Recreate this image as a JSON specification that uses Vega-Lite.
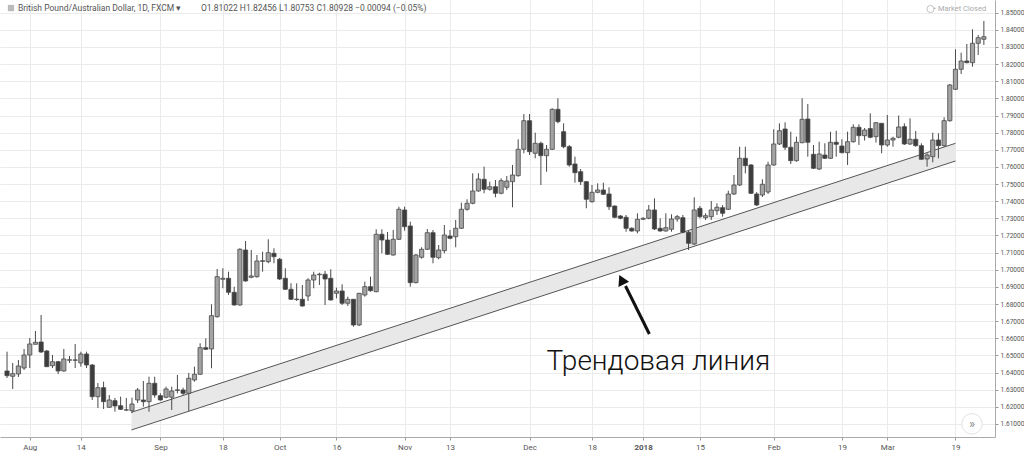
{
"$schema": "https://vega.github.io/schema/vega-lite/v6.json",
"width": 995, "height": 437, "padding": 0, "autosize": {"type": "pad"},
"background": "white",
"config": {"view": {"stroke": null}, "font": "Roboto",
 "axis": {"labelOverlap": false, "labelFlush": false, "labelBound": false, "domainColor": "#aaaaaa", "gridColor": "#ebebeb", "tickColor": "#999999", "labelColor": "#555555"},
 "axisQuantitative": {"labelOverlap": false},
 "axisRight": {"labelOverlap": false},
 "axisY": {"labelFontSize": 6.6, "labelOverlap": false, "labelPadding": 2, "tickSize": 3}},
"datasets": {
"candles": [
{"i":-4,"o":1.64093,"h":1.65219,"l":1.63685,"c":1.63819},
{"i":-3,"o":1.63784,"h":1.6456,"l":1.63043,"c":1.63936},
{"i":-2,"o":1.63918,"h":1.64735,"l":1.63743,"c":1.64385},
{"i":-1,"o":1.64268,"h":1.65377,"l":1.64152,"c":1.65027},
{"i":0,"o":1.65027,"h":1.66019,"l":1.64268,"c":1.65669},
{"i":1,"o":1.65651,"h":1.66427,"l":1.65651,"c":1.65768},
{"i":2,"o":1.65785,"h":1.67361,"l":1.65143,"c":1.65202},
{"i":3,"o":1.6526,"h":1.65318,"l":1.64326,"c":1.64344},
{"i":4,"o":1.64402,"h":1.65027,"l":1.64268,"c":1.64636},
{"i":5,"o":1.64636,"h":1.64677,"l":1.63918,"c":1.64093},
{"i":6,"o":1.64093,"h":1.65377,"l":1.64052,"c":1.64793},
{"i":7,"o":1.6472,"h":1.64968,"l":1.6456,"c":1.6475},
{"i":8,"o":1.6474,"h":1.65669,"l":1.64268,"c":1.6472},
{"i":9,"o":1.6456,"h":1.65219,"l":1.64344,"c":1.65085},
{"i":10,"o":1.65085,"h":1.65219,"l":1.64268,"c":1.64443},
{"i":11,"o":1.64443,"h":1.64502,"l":1.62401,"c":1.62594},
{"i":12,"o":1.62594,"h":1.63393,"l":1.61934,"c":1.63119},
{"i":13,"o":1.63119,"h":1.63469,"l":1.61876,"c":1.62302},
{"i":14,"o":1.61975,"h":1.62693,"l":1.61934,"c":1.62401},
{"i":15,"o":1.6236,"h":1.62518,"l":1.61718,"c":1.62051},
{"i":16,"o":1.62068,"h":1.62594,"l":1.61817,"c":1.61858},
{"i":17,"o":1.6181,"h":1.62518,"l":1.61759,"c":1.6183},
{"i":18,"o":1.61777,"h":1.62535,"l":1.61642,"c":1.62168},
{"i":19,"o":1.62401,"h":1.63101,"l":1.62226,"c":1.62985},
{"i":20,"o":1.62401,"h":1.6351,"l":1.6201,"c":1.62302},
{"i":21,"o":1.62302,"h":1.63761,"l":1.61718,"c":1.63375},
{"i":22,"o":1.63375,"h":1.63761,"l":1.62535,"c":1.62693},
{"i":23,"o":1.62652,"h":1.62792,"l":1.6236,"c":1.62401},
{"i":24,"o":1.62559,"h":1.63177,"l":1.625,"c":1.63043},
{"i":25,"o":1.62559,"h":1.63177,"l":1.61817,"c":1.62926},
{"i":26,"o":1.62955,"h":1.6386,"l":1.62792,"c":1.62996},
{"i":27,"o":1.62985,"h":1.63119,"l":1.62693,"c":1.62792},
{"i":28,"o":1.62792,"h":1.63976,"l":1.61759,"c":1.63667},
{"i":29,"o":1.63568,"h":1.64344,"l":1.63469,"c":1.63901},
{"i":30,"o":1.63901,"h":1.65709,"l":1.6386,"c":1.65453},
{"i":31,"o":1.65453,"h":1.66001,"l":1.65318,"c":1.65359},
{"i":32,"o":1.65377,"h":1.67985,"l":1.64251,"c":1.6732},
{"i":33,"o":1.67262,"h":1.70045,"l":1.67203,"c":1.69596},
{"i":34,"o":1.69444,"h":1.70086,"l":1.68919,"c":1.69502},
{"i":35,"o":1.69502,"h":1.69887,"l":1.68528,"c":1.68685},
{"i":36,"o":1.68685,"h":1.69012,"l":1.67903,"c":1.67944},
{"i":37,"o":1.67944,"h":1.71253,"l":1.67903,"c":1.71194},
{"i":38,"o":1.71154,"h":1.71679,"l":1.69304,"c":1.69345},
{"i":39,"o":1.69561,"h":1.71154,"l":1.69502,"c":1.69637},
{"i":40,"o":1.69596,"h":1.70862,"l":1.69537,"c":1.70512},
{"i":41,"o":1.7049,"h":1.71054,"l":1.69887,"c":1.7053},
{"i":42,"o":1.70471,"h":1.71778,"l":1.70378,"c":1.70996},
{"i":43,"o":1.70961,"h":1.71253,"l":1.70378,"c":1.70763},
{"i":44,"o":1.70611,"h":1.70687,"l":1.69403,"c":1.69461},
{"i":45,"o":1.69502,"h":1.70086,"l":1.6882,"c":1.6886},
{"i":46,"o":1.6886,"h":1.69211,"l":1.68236,"c":1.68277},
{"i":47,"o":1.6826,"h":1.69211,"l":1.68178,"c":1.6829},
{"i":48,"o":1.68277,"h":1.69111,"l":1.67845,"c":1.67886},
{"i":49,"o":1.68469,"h":1.69502,"l":1.68178,"c":1.69403},
{"i":50,"o":1.69403,"h":1.69887,"l":1.68919,"c":1.69695},
{"i":51,"o":1.6971,"h":1.69829,"l":1.69111,"c":1.6974},
{"i":52,"o":1.69736,"h":1.69928,"l":1.67944,"c":1.69461},
{"i":53,"o":1.69502,"h":1.70027,"l":1.68207,"c":1.68236},
{"i":54,"o":1.68627,"h":1.68954,"l":1.68335,"c":1.68761},
{"i":55,"o":1.68761,"h":1.69152,"l":1.67944,"c":1.68044},
{"i":56,"o":1.68044,"h":1.68429,"l":1.67886,"c":1.68277},
{"i":57,"o":1.68277,"h":1.68294,"l":1.66678,"c":1.66777},
{"i":58,"o":1.66777,"h":1.68645,"l":1.66719,"c":1.68627},
{"i":59,"o":1.68528,"h":1.69304,"l":1.68429,"c":1.69012},
{"i":60,"o":1.69012,"h":1.69596,"l":1.6872,"c":1.68779},
{"i":61,"o":1.6872,"h":1.72361,"l":1.68685,"c":1.7207},
{"i":62,"o":1.7207,"h":1.72361,"l":1.70961,"c":1.71737},
{"i":63,"o":1.71737,"h":1.72204,"l":1.70862,"c":1.70903},
{"i":64,"o":1.70862,"h":1.72321,"l":1.70821,"c":1.71778},
{"i":65,"o":1.71778,"h":1.7368,"l":1.71737,"c":1.73529},
{"i":66,"o":1.73488,"h":1.7368,"l":1.7228,"c":1.72513},
{"i":67,"o":1.72554,"h":1.72805,"l":1.69012,"c":1.69246},
{"i":68,"o":1.69246,"h":1.7092,"l":1.69211,"c":1.70862},
{"i":69,"o":1.70728,"h":1.71311,"l":1.70646,"c":1.71194},
{"i":70,"o":1.71194,"h":1.72379,"l":1.71154,"c":1.72163},
{"i":71,"o":1.72163,"h":1.72321,"l":1.70378,"c":1.70728},
{"i":72,"o":1.70704,"h":1.71445,"l":1.70611,"c":1.71154},
{"i":73,"o":1.71113,"h":1.72612,"l":1.70961,"c":1.72029},
{"i":74,"o":1.71971,"h":1.72321,"l":1.71778,"c":1.71836},
{"i":75,"o":1.7193,"h":1.72904,"l":1.71311,"c":1.7242},
{"i":76,"o":1.7242,"h":1.73914,"l":1.72379,"c":1.73529},
{"i":77,"o":1.73529,"h":1.74112,"l":1.73447,"c":1.73879},
{"i":78,"o":1.73879,"h":1.75629,"l":1.7382,"c":1.74596},
{"i":79,"o":1.74596,"h":1.75629,"l":1.74555,"c":1.75296},
{"i":80,"o":1.75279,"h":1.76014,"l":1.74462,"c":1.74695},
{"i":81,"o":1.74695,"h":1.75139,"l":1.74614,"c":1.74847},
{"i":82,"o":1.74847,"h":1.75238,"l":1.74229,"c":1.74462},
{"i":83,"o":1.74462,"h":1.75337,"l":1.74404,"c":1.75197},
{"i":84,"o":1.74812,"h":1.75471,"l":1.74655,"c":1.75179},
{"i":85,"o":1.75139,"h":1.76113,"l":1.73645,"c":1.7553},
{"i":86,"o":1.75489,"h":1.77613,"l":1.75431,"c":1.7703},
{"i":87,"o":1.7703,"h":1.79089,"l":1.76796,"c":1.78698},
{"i":88,"o":1.78698,"h":1.79089,"l":1.76697,"c":1.76889},
{"i":89,"o":1.76796,"h":1.77998,"l":1.76504,"c":1.7738},
{"i":90,"o":1.7738,"h":1.77473,"l":1.74946,"c":1.76656},
{"i":91,"o":1.76656,"h":1.7728,"l":1.75722,"c":1.7703},
{"i":92,"o":1.7703,"h":1.79422,"l":1.76988,"c":1.79363},
{"i":93,"o":1.79363,"h":1.80005,"l":1.78546,"c":1.7864},
{"i":94,"o":1.78056,"h":1.78546,"l":1.77088,"c":1.77181},
{"i":95,"o":1.77181,"h":1.7728,"l":1.76014,"c":1.76113},
{"i":96,"o":1.76171,"h":1.76598,"l":1.75081,"c":1.75664},
{"i":97,"o":1.75722,"h":1.7588,"l":1.74946,"c":1.75139},
{"i":98,"o":1.75139,"h":1.75179,"l":1.73587,"c":1.74112},
{"i":99,"o":1.73972,"h":1.74946,"l":1.73914,"c":1.7452},
{"i":100,"o":1.7452,"h":1.75045,"l":1.74462,"c":1.74655},
{"i":101,"o":1.74655,"h":1.75081,"l":1.74363,"c":1.74404},
{"i":102,"o":1.74421,"h":1.74812,"l":1.73488,"c":1.7368},
{"i":103,"o":1.73721,"h":1.7375,"l":1.73003,"c":1.73061},
{"i":104,"o":1.73137,"h":1.73196,"l":1.72945,"c":1.73003},
{"i":105,"o":1.73061,"h":1.73196,"l":1.72221,"c":1.7242},
{"i":106,"o":1.7242,"h":1.72478,"l":1.72221,"c":1.72262},
{"i":107,"o":1.72262,"h":1.73295,"l":1.72128,"c":1.72945},
{"i":108,"o":1.72945,"h":1.73061,"l":1.72904,"c":1.73003},
{"i":109,"o":1.73003,"h":1.73779,"l":1.72945,"c":1.73488},
{"i":110,"o":1.73488,"h":1.7417,"l":1.72321,"c":1.72379},
{"i":111,"o":1.7242,"h":1.73003,"l":1.72221,"c":1.72262},
{"i":112,"o":1.72262,"h":1.73295,"l":1.72221,"c":1.72455},
{"i":113,"o":1.72361,"h":1.73237,"l":1.72221,"c":1.72962},
{"i":114,"o":1.72962,"h":1.73196,"l":1.72805,"c":1.73097},
{"i":115,"o":1.73038,"h":1.73196,"l":1.72128,"c":1.72186},
{"i":116,"o":1.72186,"h":1.72321,"l":1.71154,"c":1.71545},
{"i":117,"o":1.71504,"h":1.74229,"l":1.71445,"c":1.73488},
{"i":118,"o":1.73587,"h":1.73721,"l":1.73003,"c":1.73097},
{"i":119,"o":1.73038,"h":1.73295,"l":1.72904,"c":1.73155},
{"i":120,"o":1.73097,"h":1.74013,"l":1.72904,"c":1.73488},
{"i":121,"o":1.73447,"h":1.73879,"l":1.73196,"c":1.73645},
{"i":122,"o":1.73622,"h":1.73779,"l":1.73097,"c":1.73295},
{"i":123,"o":1.73529,"h":1.74614,"l":1.73488,"c":1.74421},
{"i":124,"o":1.74421,"h":1.7553,"l":1.74363,"c":1.74946},
{"i":125,"o":1.74946,"h":1.77181,"l":1.74888,"c":1.76504},
{"i":126,"o":1.76504,"h":1.77181,"l":1.75629,"c":1.76073},
{"i":127,"o":1.76113,"h":1.76171,"l":1.74421,"c":1.74462},
{"i":128,"o":1.74421,"h":1.74538,"l":1.73721,"c":1.73779},
{"i":129,"o":1.74363,"h":1.75279,"l":1.74247,"c":1.74987},
{"i":130,"o":1.74538,"h":1.76306,"l":1.74421,"c":1.76113},
{"i":131,"o":1.76113,"h":1.78197,"l":1.76073,"c":1.77339},
{"i":132,"o":1.77339,"h":1.78546,"l":1.7728,"c":1.78115},
{"i":133,"o":1.78214,"h":1.78605,"l":1.76988,"c":1.77146},
{"i":134,"o":1.77146,"h":1.78056,"l":1.76171,"c":1.76364},
{"i":135,"o":1.76364,"h":1.77765,"l":1.76306,"c":1.77438},
{"i":136,"o":1.77415,"h":1.80005,"l":1.7738,"c":1.7878},
{"i":137,"o":1.78797,"h":1.79673,"l":1.76598,"c":1.77438},
{"i":138,"o":1.76738,"h":1.7728,"l":1.7588,"c":1.75921},
{"i":139,"o":1.7588,"h":1.77473,"l":1.75822,"c":1.76755},
{"i":140,"o":1.76697,"h":1.7738,"l":1.76463,"c":1.76504},
{"i":141,"o":1.76504,"h":1.78056,"l":1.76463,"c":1.77438},
{"i":142,"o":1.77438,"h":1.78115,"l":1.76598,"c":1.77321},
{"i":143,"o":1.77222,"h":1.77613,"l":1.76796,"c":1.76831},
{"i":144,"o":1.76831,"h":1.78056,"l":1.76113,"c":1.77473},
{"i":145,"o":1.77473,"h":1.78488,"l":1.77415,"c":1.78313},
{"i":146,"o":1.78313,"h":1.78488,"l":1.7728,"c":1.77823},
{"i":147,"o":1.77823,"h":1.78272,"l":1.77539,"c":1.78155},
{"i":148,"o":1.78238,"h":1.7913,"l":1.77671,"c":1.7773},
{"i":149,"o":1.77765,"h":1.78622,"l":1.77422,"c":1.78581},
{"i":150,"o":1.78546,"h":1.78563,"l":1.76796,"c":1.7728},
{"i":151,"o":1.7728,"h":1.79031,"l":1.77181,"c":1.77572},
{"i":152,"o":1.77572,"h":1.77765,"l":1.77181,"c":1.77672},
{"i":153,"o":1.7773,"h":1.79002,"l":1.77671,"c":1.78331},
{"i":154,"o":1.78348,"h":1.78546,"l":1.7728,"c":1.77339},
{"i":155,"o":1.77339,"h":1.78838,"l":1.7728,"c":1.77613},
{"i":156,"o":1.77613,"h":1.78097,"l":1.77181,"c":1.7724},
{"i":157,"o":1.7724,"h":1.7738,"l":1.7643,"c":1.76446},
{"i":158,"o":1.76463,"h":1.76796,"l":1.76014,"c":1.76697},
{"i":159,"o":1.76598,"h":1.77998,"l":1.76271,"c":1.77572},
{"i":160,"o":1.77572,"h":1.77963,"l":1.76504,"c":1.7724},
{"i":161,"o":1.7724,"h":1.78897,"l":1.77181,"c":1.78698},
{"i":162,"o":1.78698,"h":1.8084,"l":1.7864,"c":1.80782},
{"i":163,"o":1.80531,"h":1.82865,"l":1.8049,"c":1.81698},
{"i":164,"o":1.81698,"h":1.82666,"l":1.81423,"c":1.82182},
{"i":165,"o":1.82182,"h":1.83174,"l":1.82048,"c":1.82083},
{"i":166,"o":1.82083,"h":1.84032,"l":1.8185,"c":1.83215},
{"i":167,"o":1.83215,"h":1.83699,"l":1.82532,"c":1.83541},
{"i":168,"o":1.83448,"h":1.84516,"l":1.83116,"c":1.836}
],
"band": [
{"i":17.9,"up":1.61683,"lo":1.60651},
{"i":163,"up":1.77379,"lo":1.76347}
]
},
"encoding": {
"x": {"field": "i", "type": "quantitative", "title": null,
 "scale": {"domain": [-4.358, 169.08], "nice": false, "zero": false},
 "axis": {"values": [0,9,23,34,44,54,66,74,88,99,108,118,131,143,151,163],
  "labelExpr": "['Aug','14','Sep','18','Oct','16','Nov','13','Dec','18','2018','15','Feb','19','Mar','19'][indexof([0,9,23,34,44,54,66,74,88,99,108,118,131,143,151,163], datum.value)]",
  "labelFontSize": 8, "labelColor": "#555555", "labelFlush": false, "labelOverlap": false, "labelBound": false,
  "labelFontWeight": {"condition": {"test": "datum.value == 108", "value": "bold"}, "value": "normal"},
  "tickSize": 3, "labelPadding": 3, "grid": true}}
},
"layer": [
{"data": {"name": "band"}, "mark": {"type": "area", "color": "#e8e8e8", "opacity": 1},
 "encoding": {
  "y": {"field": "up", "type": "quantitative", "title": null,
   "scale": {"domain": [1.60241, 1.85741], "nice": false, "zero": false},
   "axis": {"orient": "right", "values": [1.61,1.62,1.63,1.64,1.65,1.66,1.67,1.68,1.69,1.70,1.71,1.72,1.73,1.74,1.75,1.76,1.77,1.78,1.79,1.80,1.81,1.82,1.83,1.84,1.85],
    "tickCount": 25, "format": ".5f", "labelFontSize": 6.6, "tickSize": 3, "labelPadding": 2, "grid": true, "labelOverlap": false, "labelSeparation": 0, "labelFlush": false}},
  "y2": {"field": "lo"}}},
{"data": {"name": "band"}, "mark": {"type": "line", "color": "#555555", "strokeWidth": 1},
 "encoding": {"y": {"field": "up", "type": "quantitative", "title": null, "scale": {"domain": [1.60241, 1.85741], "nice": false, "zero": false}}}},
{"data": {"name": "band"}, "mark": {"type": "line", "color": "#555555", "strokeWidth": 1},
 "encoding": {"y": {"field": "lo", "type": "quantitative", "title": null, "scale": {"domain": [1.60241, 1.85741], "nice": false, "zero": false}}}},
{"data": {"name": "candles"}, "mark": {"type": "rule", "color": "#4a4a4a", "strokeWidth": 1},
 "encoding": {"y": {"field": "l", "type": "quantitative", "title": null, "scale": {"domain": [1.60241, 1.85741], "nice": false, "zero": false}},
  "y2": {"field": "h"}}},
{"data": {"name": "candles"}, "mark": {"type": "bar", "size": 4.2, "stroke": "#4a4a4a", "strokeWidth": 0.8},
 "encoding": {"y": {"field": "o", "type": "quantitative", "title": null, "scale": {"domain": [1.60241, 1.85741], "nice": false, "zero": false}},
  "y2": {"field": "c"},
  "fill": {"condition": {"test": "datum.c >= datum.o", "value": "#a3a3a3"}, "value": "#3d3d3d"}}},
{"data": {"values": [{"i": 109.1, "p": 1.66252, "i2": 104.9, "p2": 1.6905}]},
 "mark": {"type": "rule", "color": "#111111", "strokeWidth": 3},
 "encoding": {"y": {"field": "p", "type": "quantitative", "title": null, "scale": {"domain": [1.60241, 1.85741], "nice": false, "zero": false}},
  "x2": {"field": "i2"}, "y2": {"field": "p2"}}},
{"data": {"values": [{"i": 104.2, "p": 1.6942}]},
 "mark": {"type": "point", "shape": "triangle-up", "filled": true, "color": "#111111", "size": 140, "opacity": 1, "angle": 334},
 "encoding": {"y": {"field": "p", "type": "quantitative", "title": null, "scale": {"domain": [1.60241, 1.85741], "nice": false, "zero": false}}}},
{"data": {"values": [{"i": 110.7, "p": 1.64618, "t": "Трендовая линия"}]},
 "mark": {"type": "text", "fontSize": 28, "font": "Roboto", "fontWeight": 300, "color": "#111111", "align": "center", "baseline": "middle"},
 "encoding": {"y": {"field": "p", "type": "quantitative", "title": null, "scale": {"domain": [1.60241, 1.85741], "nice": false, "zero": false}},
  "text": {"field": "t"}}},
{"data": {"values": [{"i": -3.3, "p": 1.8527}]},
 "mark": {"type": "point", "shape": "square", "filled": true, "color": "#bbbbbb", "size": 40, "opacity": 1},
 "encoding": {"y": {"field": "p", "type": "quantitative", "title": null, "scale": {"domain": [1.60241, 1.85741], "nice": false, "zero": false}}}},
{"data": {"values": [
  {"i": -2.09, "p": 1.85274, "t": "British Pound/Australian Dollar, 1D, FXCM ▾"},
  {"i": 30.15, "p": 1.85274, "t": "O1.81022  H1.82456  L1.80753  C1.80928  −0.00094 (−0.05%)"}]},
 "mark": {"type": "text", "fontSize": 8.5, "font": "Roboto", "color": "#555555", "align": "left", "baseline": "middle"},
 "encoding": {"y": {"field": "p", "type": "quantitative", "title": null, "scale": {"domain": [1.60241, 1.85741], "nice": false, "zero": false}},
  "text": {"field": "t"}}},
{"data": {"values": [{"i": 168.4, "p": 1.85216, "t": "• Market Closed"}]},
 "mark": {"type": "text", "fontSize": 7.5, "font": "Roboto", "color": "#aaaaaa", "align": "right", "baseline": "middle"},
 "encoding": {"y": {"field": "p", "type": "quantitative", "title": null, "scale": {"domain": [1.60241, 1.85741], "nice": false, "zero": false}},
  "text": {"field": "t"}}},
{"data": {"values": [{"i": 158.6, "p": 1.85216}]},
 "mark": {"type": "point", "shape": "circle", "filled": false, "color": "#aaaaaa", "size": 50, "strokeWidth": 1},
 "encoding": {"y": {"field": "p", "type": "quantitative", "title": null, "scale": {"domain": [1.60241, 1.85741], "nice": false, "zero": false}}}},
{"data": {"values": [{"i": 165.9, "p": 1.6101}]},
 "mark": {"type": "point", "shape": "circle", "filled": true, "fill": "#ffffff", "stroke": "#e2e2e2", "strokeWidth": 1, "size": 420, "opacity": 1},
 "encoding": {"y": {"field": "p", "type": "quantitative", "title": null, "scale": {"domain": [1.60241, 1.85741], "nice": false, "zero": false}}}},
{"data": {"values": [{"i": 165.9, "p": 1.6101, "t": "»"}]},
 "mark": {"type": "text", "fontSize": 13, "font": "Roboto", "color": "#888888", "align": "center", "baseline": "middle"},
 "encoding": {"y": {"field": "p", "type": "quantitative", "title": null, "scale": {"domain": [1.60241, 1.85741], "nice": false, "zero": false}},
  "text": {"field": "t"}}}
]
}
